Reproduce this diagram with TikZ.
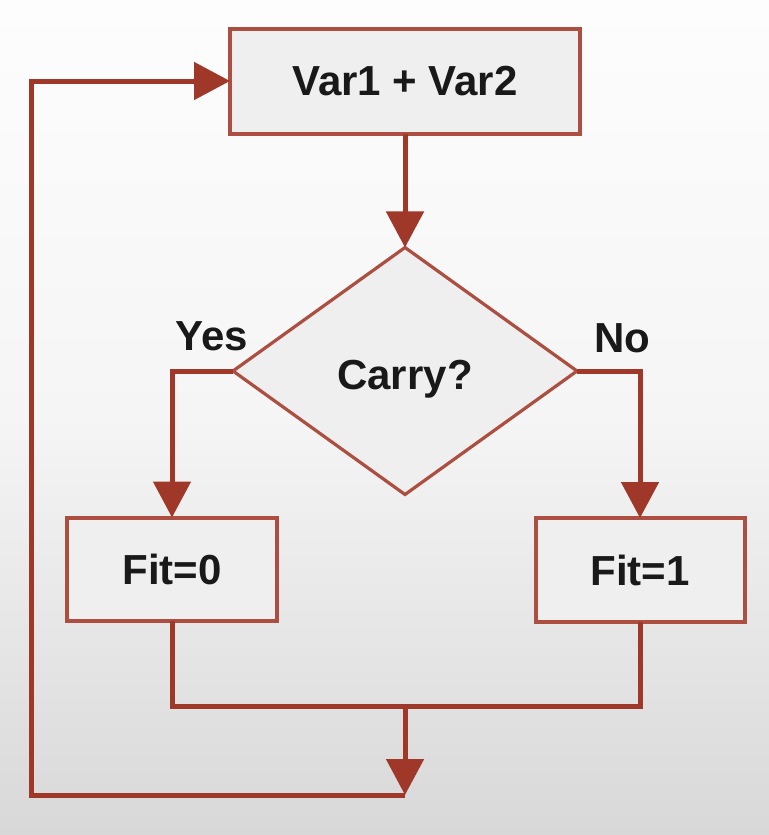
\documentclass[tikz,border=0pt]{standalone}
\usepackage{fontspec}
\setmainfont{Liberation Sans}
\usetikzlibrary{arrows.meta,shapes.geometric}
\definecolor{flowred}{RGB}{160,56,42}
\definecolor{edgered}{RGB}{172,78,64}
\definecolor{boxgray}{RGB}{239,239,239}
\definecolor{bgtop}{RGB}{253,253,253}
\definecolor{bgmid}{RGB}{245,245,245}
\definecolor{bgbot}{RGB}{216,216,216}

\begin{document}
\begin{tikzpicture}[x=0.5pt,y=-0.5pt,>={Triangle[width=18.5pt,length=18pt]},flow/.style={draw=flowred,line width=2.5pt,->,fill=none},line/.style={draw=flowred,line width=2.5pt},every node/.style={font=\fontsize{21}{25}\selectfont\bfseries,text=black!90},process node/.style={rectangle,draw=edgered,fill=boxgray,line width=2pt,inner sep=0pt,outer sep=0pt},decision node/.style={diamond,draw=edgered,fill=boxgray,line width=1.6pt,inner sep=0pt,outer sep=0pt,minimum width=172pt,minimum height=123.5pt}]
  \useasboundingbox (0,0) rectangle (769,835);
  \shade[top color=bgtop,bottom color=bgbot,middle color=bgmid] (0,0) rectangle (769,835);

  \node[process node,minimum width=175pt,minimum height=52.5pt] (sum) at (405,81) {Var1 + Var2};
  \node[decision node,text height=23pt,text depth=4.5pt] (carry) at (405,371) {Carry?};
  \node[process node,minimum width=105pt,minimum height=51.5pt] (fit0) at (172,569) {Fit=0};
  \node[process node,minimum width=104.5pt,minimum height=52pt] (fit1) at (640,570) {Fit=1};

  \node (yes) at (212,336) {Yes};
  \node (no) at (622,338) {No};

  \coordinate (merge) at (405,706);
  \coordinate (sink) at (405,795);
  \coordinate (back) at (31,795);

  \draw[flow] (sum) -- (carry);
  \draw[flow] (carry.west) -| (fit0.north);
  \draw[flow] (carry.east) -| (fit1.north);
  \draw[line] (fit0.south) |- (merge) -| (fit1.south);
  \draw[flow] (merge) -- (sink);
  \draw[flow] (sink) -- (back) |- (sum.west);
\end{tikzpicture}
\end{document}
